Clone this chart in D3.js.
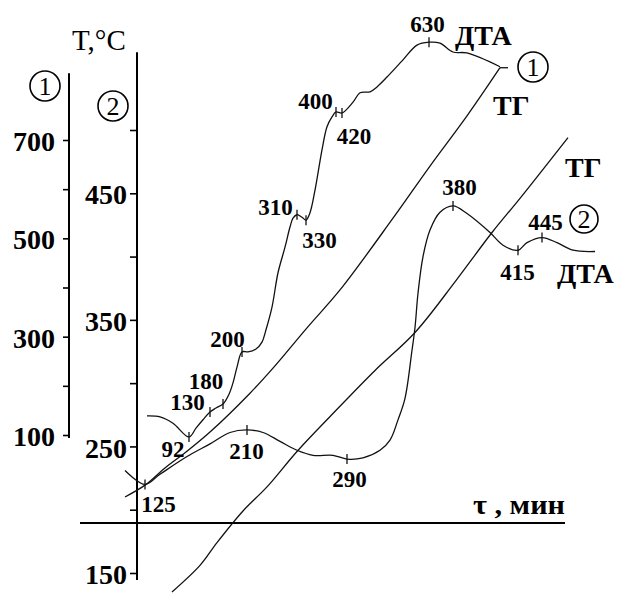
<!DOCTYPE html>
<html><head><meta charset="utf-8">
<script src="https://cdn.jsdelivr.net/npm/d3@7"></script>
<style>body{margin:0;background:#fff}svg{display:block}</style>
</head><body><svg id="c" width="621" height="594"></svg>
<script>
// ---- data: [time τ (min), temperature] ----
// sample ① read against axis ①, sample ② against axis ②
const dta1 = [[15,139],[21.5,137],[28,124],[36,96],[39.5,114],[43,131],[46.5,147],[49.5,155],[53,163],[56,183],[58,206],[60,238],[62.5,269],[65.5,269],[69.5,275],[72.5,289],[74.5,314],[77.5,360],[80.5,430],[84,482],[86.5,523],[88,541],[90,548],[92.5,543],[94.5,537],[96.5,552],[99,598],[102.5,680],[105,727],[107.5,747],[109.5,757],[112.5,755],[118,777],[121.5,796],[126.5,798],[130,808],[135,828],[143,863],[150,893],[156,899],[161.5,897],[168,879],[175,877],[191.5,849]];
const tg1 = [[4,-26],[14,-2],[24,33],[35,67],[46.5,106],[66.5,185],[78,236],[95,318],[111.5,395],[138,541],[156.5,647],[175,749],[191.5,847]];
const dta2 = [[4,231],[14,220],[21.5,228],[35,242],[46.5,252],[56.5,261],[65,263],[73,261],[81.5,254],[90,247],[98,243],[108,243],[115,240],[123,241],[131.5,247],[136.5,255],[140.5,271],[144,288],[147.5,326],[149,344],[150.5,371],[153,400],[156.5,421],[161.5,435],[168,440],[175,434],[186.5,419],[193,409],[200.5,405],[205,411],[212.5,415],[220,411],[228,405],[239,404]];
const tg2 = [[27.5,135],[41.5,156],[50,174],[63,199],[75,218],[90,246],[108,276],[129,310],[149,340],[169,380],[187.5,419],[201.5,446],[225.5,494]];

const dta1MarkLabels = ["92","130","180","200","310","330","400","420","630"];
const dta1MarkT = [36,46.5,53,62.5,90,94.5,109.5,112.5,156];
const dta1MarkY = [96,147,163,269,548,537,757,755,899];
const dta2MarkLabels = ["125","210","290","380","415","445"];
const dta2MarkT = [14,65,115,168,200.5,212.5];
const dta2MarkY = [220,263,240,440,405,415];

const axis1Ticks = [100,200,300,400,500,600,700];
const axis1Labels = [100,300,500,700];
const axis2Ticks = [150,200,250,300,350,400,450,500];
const axis2Labels = [150,250,350,450];

// ---- layout ----
const FONT = "'Liberation Serif','Times New Roman',serif";
const svg = d3.select("#c");
const x = d3.scaleLinear().domain([0,225]).range([117,567]);
const y1 = d3.scaleLinear().domain([100,700]).range([435,140]);
const y2 = d3.scaleLinear().domain([150,500]).range([573,130]);
const AX1 = 69, AX2 = 137;

// axes lines
svg.append("line").attr("x1",AX1).attr("x2",AX1).attr("y1",y1(836)).attr("y2",y1(94))
  .attr("stroke","#000").attr("stroke-width",2);
svg.append("line").attr("x1",AX2).attr("x2",AX2).attr("y1",y2(561.5)).attr("y2",y2(144.5))
  .attr("stroke","#000").attr("stroke-width",2);
svg.append("line").attr("x1",x(-18.5)).attr("x2",x(224)).attr("y1",y2(189.5)).attr("y2",y2(189.5))
  .attr("stroke","#000").attr("stroke-width",2);

function styleAxis(g){
  g.select(".domain").remove();
  g.selectAll(".tick line").attr("stroke","#000").attr("stroke-width",1.6);
  g.selectAll(".tick text").attr("fill","#000").attr("font-family",FONT)
    .attr("font-size",28).attr("font-weight","bold").attr("dy","0.38em");
}
const a1 = svg.append("g").attr("transform",`translate(${AX1},0)`)
  .call(d3.axisLeft(y1).tickValues(axis1Ticks).tickSize(6).tickPadding(8)
    .tickFormat(d=>axis1Labels.includes(d)?String(d):""));
styleAxis(a1);
const a2 = svg.append("g").attr("transform",`translate(${AX2},0)`)
  .call(d3.axisLeft(y2).tickValues(axis2Ticks).tickSize(7).tickPadding(3)
    .tickFormat(d=>axis2Labels.includes(d)?String(d):""));
styleAxis(a2);

// curves
const curve = d3.curveCatmullRom.alpha(0.5);
const line1 = d3.line().x(d=>x(d[0])).y(d=>y1(d[1])).curve(curve);
const line2 = d3.line().x(d=>x(d[0])).y(d=>y2(d[1])).curve(curve);
const cs = {fill:"none", stroke:"#111", "stroke-width":1.3};
function path(dstr){ const p = svg.append("path").attr("d",dstr); Object.entries(cs).forEach(([k,v])=>p.attr(k,v)); }
path(line1(dta1)); path(line1(tg1)); path(line2(dta2)); path(line2(tg2));

// end tick of sample-1 curves
const endP = tg1[tg1.length-1];
svg.append("line").attr("x1",x(endP[0])).attr("x2",x(endP[0])+8)
  .attr("y1",y1(endP[1])).attr("y2",y1(endP[1])).attr("stroke","#111").attr("stroke-width",1.3);

// point marks + labels
const off1 = {"92":[-16,20],"130":[-22.5,-2],"180":[-17,-15],"200":[-14.5,-5],"310":[-21.5,0],"330":[13.5,28],"400":[-20.5,-3],"420":[12,31],"630":[-1.5,-10]};
const off2 = {"125":[13.5,28],"210":[-0.5,29],"290":[2.5,28],"380":[6.5,-11],"415":[-0.5,30],"445":[3.5,-8]};
function marks(labels, ts, vs, ys, off){
  labels.forEach((lab,i)=>{
    const px = x(ts[i]), py = ys(vs[i]);
    svg.append("line").attr("x1",px).attr("x2",px).attr("y1",py-5).attr("y2",py+5)
      .attr("stroke","#111").attr("stroke-width",1.3);
    svg.append("text").attr("x",px+off[lab][0]).attr("y",py+off[lab][1])
      .attr("text-anchor","middle").attr("font-family",FONT).attr("font-size",23)
      .attr("font-weight","bold").attr("fill","#000").text(lab);
  });
}
marks(dta1MarkLabels, dta1MarkT, dta1MarkY, y1, off1);
marks(dta2MarkLabels, dta2MarkT, dta2MarkY, y2, off2);

// texts
function txt(s,xx,yy,size,weight,anchor){
  return svg.append("text").attr("x",xx).attr("y",yy).attr("font-family",FONT)
    .attr("font-size",size).attr("font-weight",weight||"bold").attr("fill","#000")
    .attr("text-anchor",anchor||"start").text(s);
}
txt("T,°C",72,50,29,"normal");
txt("ДТА",455,45,28);
txt("ТГ",493,115,28);
txt("ТГ",565,177,28);
txt("ДТА",557,283,28);
txt("τ , мин",473,514,27).attr("textLength",92).attr("lengthAdjust","spacingAndGlyphs");

function circ(cx,cy,r,d){
  svg.append("circle").attr("cx",cx).attr("cy",cy).attr("r",r).attr("fill","none")
    .attr("stroke","#000").attr("stroke-width",1.6);
  txt(d,cx,cy+9,26,"normal","middle");
}
circ(45,86,15,"1");
circ(113,106,15,"2");
circ(533,67,15,"1");
circ(584,219,14,"2");
</script></body></html>
